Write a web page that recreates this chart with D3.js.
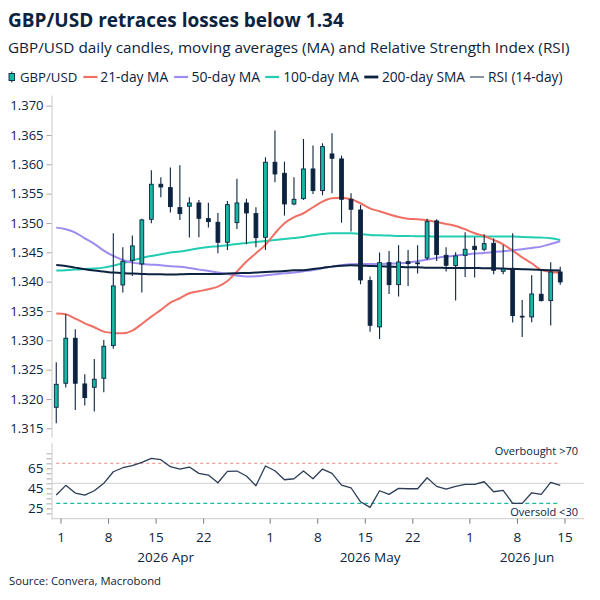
<!DOCTYPE html>
<html><head><meta charset="utf-8">
<script src="https://cdn.jsdelivr.net/npm/d3@7/dist/d3.min.js"></script>
<style>body{margin:0;background:#fff}svg{display:block}</style>
</head><body>
<svg id="chart" width="600" height="600"></svg>
<script>
// ---------------- DATA ----------------
const dates = [
"2026-03-31",
"2026-04-01","2026-04-02","2026-04-03",
"2026-04-06","2026-04-07","2026-04-08","2026-04-09","2026-04-10",
"2026-04-13","2026-04-14","2026-04-15","2026-04-16","2026-04-17",
"2026-04-20","2026-04-21","2026-04-22","2026-04-23","2026-04-24",
"2026-04-27","2026-04-28","2026-04-29","2026-04-30",
"2026-05-01",
"2026-05-04","2026-05-05","2026-05-06","2026-05-07","2026-05-08",
"2026-05-11","2026-05-12","2026-05-13","2026-05-14","2026-05-15",
"2026-05-18","2026-05-19","2026-05-20","2026-05-21","2026-05-22",
"2026-05-25","2026-05-26","2026-05-27","2026-05-28","2026-05-29",
"2026-06-01","2026-06-02","2026-06-03","2026-06-04","2026-06-05",
"2026-06-08","2026-06-09","2026-06-10","2026-06-11","2026-06-12"];
const extraDates = ["2026-06-15","2026-06-16"];

const open = [1.31858,1.32268,1.33035,1.32256,1.32199,1.32353,1.32910,1.33944,1.34364,1.34302,
1.35063,1.35660,1.35603,1.35262,1.35285,1.35341,1.35075,1.35012,1.34671,1.35006,
1.35341,1.35160,1.34756,1.36035,1.35847,1.35324,1.35415,1.35921,1.35552,1.36177,
1.36092,1.35404,1.35222,1.34018,1.33228,1.34324,1.33949,1.34341,1.34319,1.34404,
1.35035,1.34449,1.34273,1.34449,1.34603,1.34552,1.34654,1.34177,1.34228,1.33410,
1.33398,1.33785,1.33677,1.34165];
const high = [1.32626,1.33444,1.33188,1.32421,1.32682,1.33006,1.34824,1.34586,1.34785,1.35074,
1.35898,1.35779,1.35944,1.35984,1.35438,1.35393,1.35347,1.35171,1.35376,1.35756,
1.35415,1.35268,1.36120,1.36575,1.36046,1.35779,1.36432,1.36319,1.36359,1.36529,
1.36148,1.35506,1.35307,1.34086,1.34495,1.34523,1.34620,1.34540,1.34620,1.35074,
1.35063,1.34586,1.34501,1.34842,1.34756,1.34807,1.34734,1.34626,1.34824,1.33688,
1.34109,1.34216,1.34330,1.34256];
const low = [1.31586,1.32194,1.31813,1.31887,1.31785,1.32114,1.32858,1.33813,1.34097,1.33813,
1.34995,1.35438,1.35177,1.35052,1.34751,1.34756,1.34921,1.34484,1.34540,1.34898,
1.34637,1.34586,1.34540,1.35694,1.35126,1.35302,1.35393,1.35495,1.35472,1.35506,
1.35006,1.34853,1.33955,1.33148,1.33023,1.33790,1.33745,1.33927,1.34137,1.34370,
1.34353,1.34171,1.33677,1.34080,1.34069,1.34518,1.34126,1.34126,1.33302,1.33057,
1.33307,1.33660,1.33251,1.33949];
const close = [1.32250,1.33035,1.32268,1.32023,1.32336,1.32898,1.33927,1.34347,1.34609,1.35052,
1.35660,1.35614,1.35279,1.35160,1.35341,1.35080,1.35023,1.34671,1.35313,1.35341,
1.35171,1.34751,1.36035,1.35836,1.35324,1.35404,1.35921,1.35552,1.36302,1.36103,
1.35404,1.35234,1.34029,1.33256,1.34324,1.33949,1.34336,1.34307,1.34307,1.35023,
1.34461,1.34279,1.34438,1.34552,1.34546,1.34648,1.34194,1.34216,1.33421,1.33398,
1.33790,1.33677,1.34165,1.33995];

const ma21 = [1.33455,1.33444,1.33370,1.33290,1.33222,1.33148,1.33126,1.33120,1.33165,1.33279,
1.33404,1.33518,1.33643,1.33717,1.33802,1.33836,1.33870,1.33915,1.34012,1.34171,
1.34342,1.34484,1.34626,1.34824,1.34995,1.35097,1.35166,1.35268,1.35364,1.35421,
1.35432,1.35404,1.35336,1.35250,1.35199,1.35148,1.35103,1.35074,1.35063,1.35046,
1.35018,1.34984,1.34950,1.34893,1.34825,1.34779,1.34711,1.34637,1.34529,1.34415,
1.34313,1.34200,1.34165,1.34154];
const ma50 = [1.34921,1.34893,1.34836,1.34739,1.34643,1.34529,1.34438,1.34370,1.34324,1.34302,
1.34290,1.34279,1.34262,1.34256,1.34234,1.34205,1.34182,1.34154,1.34131,1.34103,
1.34086,1.34091,1.34109,1.34126,1.34143,1.34154,1.34177,1.34199,1.34234,1.34256,
1.34279,1.34296,1.34302,1.34302,1.34302,1.34307,1.34313,1.34324,1.34347,1.34376,
1.34404,1.34427,1.34444,1.34461,1.34478,1.34489,1.34506,1.34518,1.34535,1.34552,
1.34574,1.34597,1.34643,1.34688];
const ma100 = [1.34188,1.34194,1.34205,1.34216,1.34222,1.34239,1.34273,1.34313,1.34359,1.34404,
1.34438,1.34467,1.34495,1.34512,1.34540,1.34569,1.34592,1.34603,1.34620,1.34643,
1.34660,1.34677,1.34694,1.34711,1.34728,1.34745,1.34762,1.34790,1.34813,1.34824,
1.34824,1.34824,1.34813,1.34796,1.34790,1.34785,1.34779,1.34779,1.34773,1.34773,
1.34768,1.34768,1.34768,1.34768,1.34768,1.34768,1.34768,1.34768,1.34768,1.34762,
1.34756,1.34751,1.34739,1.34711];
const sma200 = [1.34285,1.34268,1.34239,1.34211,1.34188,1.34171,1.34154,1.34143,1.34137,1.34131,
1.34126,1.34126,1.34120,1.34126,1.34131,1.34131,1.34131,1.34131,1.34137,1.34143,
1.34148,1.34154,1.34165,1.34171,1.34182,1.34194,1.34194,1.34216,1.34234,1.34256,
1.34273,1.34279,1.34273,1.34268,1.34262,1.34256,1.34251,1.34245,1.34245,1.34239,
1.34239,1.34234,1.34234,1.34234,1.34234,1.34228,1.34228,1.34222,1.34216,1.34211,
1.34205,1.34199,1.34194,1.34188];
const rsi = [38.3,48.0,40.3,38.3,42.6,50.0,61.6,65.6,67.6,71.0,
75.0,73.6,66.6,64.3,66.3,60.0,58.3,50.6,62.0,62.3,
57.3,47.6,67.3,62.6,53.6,54.6,62.3,54.6,64.3,60.0,
48.3,45.6,31.6,26.0,42.6,39.0,45.0,44.6,44.6,55.6,
47.0,44.3,47.0,49.0,49.0,51.6,41.6,43.0,30.0,30.0,
40.6,39.0,51.0,48.0];

const priceTicks = [1.315,1.320,1.325,1.330,1.335,1.340,1.345,1.350,1.355,1.360,1.365,1.370];
const rsiMinorTicks = [20,25,30,35,40,45,50,55,60,65,70,75,80];
const rsiLabelTicks = [25,45,65];
const rsiLevels = [70,50,30];
const dayTickDates = ["2026-04-01","2026-04-08","2026-04-15","2026-04-22","2026-05-01","2026-05-08","2026-05-15","2026-05-22","2026-06-01","2026-06-08","2026-06-15"];
const dayTickLabels = ["1","8","15","22","1","8","15","22","1","8","15"];
const monthKeys = ["2026-04","2026-05","2026-06"];
const monthLabels = ["2026 Apr","2026 May","2026 Jun"];
const legendLabels = ["GBP/USD","21-day MA","50-day MA","100-day MA","200-day SMA","RSI (14-day)"];
const titleText = "GBP/USD retraces losses below 1.34";
const subtitleText = "GBP/USD daily candles, moving averages (MA) and Relative Strength Index (RSI)";
const sourceText = "Source: Convera, Macrobond";

// ---------------- STYLE ----------------
const FONT = "'Open Sans','Noto Sans',sans-serif";
const NAVY = "#0c2340";
const TEAL = "#16b8a2";
const C21 = "#ef6f64", C50 = "#9c8cf0", C100 = "#22cdb2", C200 = "#0c2340", CRSI = "#2b3d57";
const AXIS = "#c9c9c9";

const svg = d3.select("#chart");
const slots = dates.concat(extraDates);
const x = d3.scaleBand().domain(slots).range([51.5, 584]).padding(0);
const cx = d => x(d) + x.bandwidth() / 2;
const y = d3.scaleLinear().domain([1.3135, 1.3718]).range([437.1, 95.1]);
const yR = d3.scaleLinear().domain([14.7, 90.3]).range([518.7, 443]);

function fit(sel, target) {
  const w = sel.node().getComputedTextLength();
  const fs = parseFloat(sel.attr("font-size"));
  if (w > 0) sel.attr("font-size", (fs * target / w).toFixed(2));
  return sel;
}

// ---------------- TITLES ----------------
fit(svg.append("text").attr("x", 8).attr("y", 27).attr("font-family", FONT).attr("font-weight", 700)
  .attr("font-size", 20).attr("fill", NAVY).text(titleText), 336);
fit(svg.append("text").attr("x", 8).attr("y", 53).attr("font-family", FONT)
  .attr("font-size", 15).attr("fill", NAVY).text(subtitleText), 562);

// ---------------- LEGEND ----------------
const legY = 77;
const lg = svg.append("g");
// candle icon
lg.append("line").attr("x1", 11.8).attr("x2", 11.8).attr("y1", legY - 5.5).attr("y2", legY + 5.5)
  .attr("stroke", NAVY).attr("stroke-width", 1);
lg.append("rect").attr("x", 9).attr("y", legY - 3.5).attr("width", 5.6).attr("height", 7)
  .attr("fill", TEAL).attr("stroke", NAVY).attr("stroke-width", 0.9);
const legItems = [
  {tx: 19.9, tw: 57.4},
  {lx: 83.4, color: C21, sw: 2.2, tx: 100.3, tw: 68},
  {lx: 174.1, color: C50, sw: 2.2, tx: 191.4, tw: 68.8},
  {lx: 265.2, color: C100, sw: 2.2, tx: 283.2, tw: 75.8},
  {lx: 364.3, color: C200, sw: 2.8, tx: 381.9, tw: 83.1},
  {lx: 470, color: CRSI, sw: 1.1, tx: 488, tw: 74.6}
];
legItems.forEach((it, i) => {
  if (it.lx !== undefined) {
    lg.append("line").attr("x1", it.lx).attr("x2", it.lx + 14).attr("y1", legY).attr("y2", legY)
      .attr("stroke", it.color).attr("stroke-width", it.sw);
  }
  fit(lg.append("text").attr("x", it.tx).attr("y", legY + 4.6).attr("font-family", FONT)
    .attr("font-size", 13).attr("fill", NAVY).text(legendLabels[i]), it.tw);
});

// ---------------- MAIN PANEL ----------------
const yAxis = d3.axisLeft(y).tickValues(priceTicks).tickFormat(d3.format(".3f"))
  .tickSize(5).tickSizeOuter(0).tickPadding(3);
const gy = svg.append("g").attr("transform", "translate(51.5,0)").call(yAxis);
gy.select(".domain").attr("stroke", AXIS);
gy.selectAll(".tick line").attr("stroke", "#a8a8a8");
gy.selectAll(".tick text").attr("font-family", FONT).attr("font-size", 13).attr("fill", NAVY);

const idx = d3.range(dates.length);
const lineGen = arr => d3.line().x(i => cx(dates[i])).y(i => y(arr[i])).curve(d3.curveMonotoneX)(idx);
[[ma100, C100, 2], [ma50, C50, 2], [ma21, C21, 2], [sma200, C200, 2]].forEach(([arr, c, w]) => {
  svg.append("path").attr("d", lineGen(arr)).attr("fill", "none").attr("stroke", c)
    .attr("stroke-width", w).attr("stroke-linejoin", "round");
});

const candles = idx.map(i => ({d: dates[i], o: open[i], h: high[i], l: low[i], c: close[i]}));
const cg = svg.append("g");
cg.selectAll("line.wick").data(candles).join("line").attr("class", "wick")
  .attr("x1", d => cx(d.d)).attr("x2", d => cx(d.d))
  .attr("y1", d => y(d.h)).attr("y2", d => y(d.l))
  .attr("stroke", NAVY).attr("stroke-width", 1.1);
const bw = 3.8;
cg.selectAll("rect.body").data(candles).join("rect").attr("class", "body")
  .attr("x", d => cx(d.d) - bw / 2).attr("width", bw)
  .attr("y", d => y(Math.max(d.o, d.c)))
  .attr("height", d => Math.max(0.8, Math.abs(y(d.o) - y(d.c))))
  .attr("fill", d => d.c >= d.o ? TEAL : NAVY)
  .attr("stroke", NAVY).attr("stroke-width", 0.9);

// ---------------- RSI PANEL ----------------
const rAxis = d3.axisLeft(yR).tickValues(rsiMinorTicks)
  .tickFormat(d => rsiLabelTicks.includes(d) ? d : "").tickSize(5).tickSizeOuter(0).tickPadding(3);
const gr = svg.append("g").attr("transform", "translate(51.5,0)").call(rAxis);
gr.select(".domain").attr("stroke", AXIS);
gr.selectAll(".tick line").attr("stroke", "#a8a8a8");
gr.selectAll(".tick text").attr("font-family", FONT).attr("font-size", 13.5).attr("fill", NAVY);

const x0 = cx(dates[0]), x1 = cx(dates[dates.length - 1]);
svg.append("line").attr("x1", 51.5).attr("x2", 584).attr("y1", yR(rsiLevels[1])).attr("y2", yR(rsiLevels[1]))
  .attr("stroke", "#cfcfcf").attr("stroke-width", 1);
svg.append("line").attr("x1", x0).attr("x2", x1).attr("y1", yR(rsiLevels[0])).attr("y2", yR(rsiLevels[0]))
  .attr("stroke", "#ee8a84").attr("stroke-width", 1).attr("stroke-dasharray", "3,3");
svg.append("line").attr("x1", x0).attr("x2", x1).attr("y1", yR(rsiLevels[2])).attr("y2", yR(rsiLevels[2]))
  .attr("stroke", "#1cb9a2").attr("stroke-width", 1.2).attr("stroke-dasharray", "4,3");

svg.append("path").attr("d", d3.line().x(i => cx(dates[i])).y(i => yR(rsi[i]))(idx))
  .attr("fill", "none").attr("stroke", CRSI).attr("stroke-width", 1.3).attr("stroke-linejoin", "round");

svg.append("text").attr("x", 578).attr("y", yR(rsiLevels[0]) - 8).attr("text-anchor", "end")
  .attr("font-family", FONT).attr("font-size", 11).attr("fill", NAVY).text("Overbought >70");
svg.append("text").attr("x", 578).attr("y", yR(rsiLevels[2]) + 12.5).attr("text-anchor", "end")
  .attr("font-family", FONT).attr("font-size", 11).attr("fill", NAVY).text("Oversold <30");

// ---------------- X AXIS ----------------
const axY = 518.7;
svg.append("line").attr("x1", 51.5).attr("x2", 584).attr("y1", axY).attr("y2", axY)
  .attr("stroke", AXIS).attr("stroke-width", 1);
const gx = svg.append("g");
gx.selectAll("line").data(dayTickDates).join("line")
  .attr("x1", d => x(d)).attr("x2", d => x(d)).attr("y1", axY).attr("y2", axY + 5)
  .attr("stroke", "#6f7c8a").attr("stroke-width", 1);
gx.selectAll("text").data(dayTickDates).join("text")
  .attr("x", d => x(d)).attr("y", 542).attr("text-anchor", "middle")
  .attr("font-family", FONT).attr("font-size", 13.5).attr("fill", NAVY)
  .text((d, i) => dayTickLabels[i]);
monthKeys.forEach((k, i) => {
  const inMonth = slots.filter(s => s.startsWith(k));
  const a = x(inMonth[0]), b = x(inMonth[inMonth.length - 1]) + x.bandwidth();
  svg.append("text").attr("x", (a + b) / 2).attr("y", 562).attr("text-anchor", "middle")
    .attr("font-family", FONT).attr("font-size", 13.5).attr("fill", NAVY).text(monthLabels[i]);
});

fit(svg.append("text").attr("x", 9).attr("y", 585).attr("font-family", FONT)
  .attr("font-size", 12).attr("fill", NAVY).text(sourceText), 152);
</script>
</body></html>
